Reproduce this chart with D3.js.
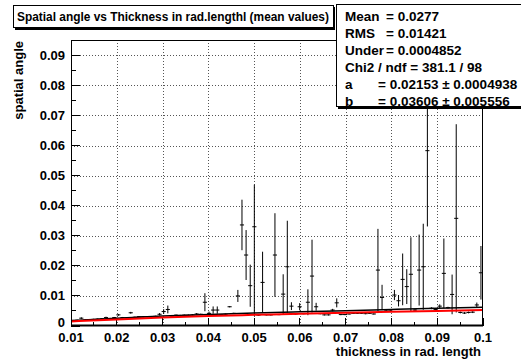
<!DOCTYPE html>
<html><head><meta charset="utf-8">
<script src="https://cdn.jsdelivr.net/npm/d3@7"></script>
<style>
html,body{margin:0;padding:0;background:#fff;}
svg{display:block;font-family:"Liberation Sans",Arial,Helvetica,sans-serif;font-weight:bold;}
</style></head>
<body><svg id="c" width="521" height="360"></svg>
<script>
// ---- data ----
const binLow = 0.01, binWidth = 0.0009;
const meanValues = [
 0.0017,0.0019,0.0026,0.0020,0.0021,0.0022,0.0023,0.0024,0.0028,0.0025,
 0.0028,0.0037,0.0028,0.0027,0.0044,0.0029,0.0031,0.0031,0.0031,0.0030,
 0.0032,0.0039,0.0048,0.0055,0.0033,0.0036,0.0035,0.0036,0.0036,0.0037,
 0.0040,0.0039,0.0079,0.0042,0.0053,0.0053,0.0038,0.0039,0.0064,0.0042,
 0.0100,0.0336,0.0236,0.0134,0.0330,0.0036,0.0145,0.0037,0.0037,0.0236,
 0.0038,0.0106,0.0197,0.0066,0.0040,0.0064,0.0041,0.0079,0.0166,0.0064,
 0.0041,0.0037,0.0037,0.0053,0.0077,0.0038,0.0038,0.0040,0.0042,0.0042,
 0.0042,0.0041,0.0042,0.0040,0.0186,0.0095,0.0053,0.0053,0.0103,0.0084,
 0.0155,0.0131,0.0172,0.0053,0.0186,0.0197,0.0583,0.0059,0.0055,0.0066,
 0.0175,0.0061,0.0105,0.0358,0.0045,0.0043,0.0045,0.0046,0.0070,0.0177
];
const errUpValues = [
 0.0002,0.0002,0.0003,0.0002,0.0002,0.0002,0.0002,0.0002,0.0003,0.0002,
 0.0002,0.0003,0.0002,0.0002,0.0003,0.0002,0.0002,0.0002,0.0002,0.0002,
 0.0002,0.0004,0.0008,0.0013,0.0002,0.0002,0.0002,0.0002,0.0002,0.0002,
 0.0003,0.0002,0.0030,0.0006,0.0012,0.0012,0.0002,0.0002,0.0002,0.0002,
 0.0020,0.0084,0.0083,0.0070,0.0140,0.0002,0.0102,0.0002,0.0002,0.0139,
 0.0002,0.0066,0.0153,0.0013,0.0002,0.0012,0.0002,0.0043,0.0121,0.0013,
 0.0002,0.0002,0.0002,0.0004,0.0015,0.0002,0.0002,0.0002,0.0002,0.0002,
 0.0002,0.0002,0.0002,0.0002,0.0137,0.0042,0.0003,0.0003,0.0017,0.0019,
 0.0086,0.0058,0.0123,0.0003,0.0118,0.0143,0.0252,0.0003,0.0003,0.0006,
 0.0116,0.0003,0.0066,0.0313,0.0003,0.0003,0.0003,0.0003,0.0008,0.0089
];
// lower error lengths (equal to the upper ones except where the picture shows a longer lower bar)
const errDownValues = errUpValues.map((e,i)=> i===44 ? 0.0297 : e);
const curveX = [0.01,0.02,0.03,0.04,0.05,0.06,0.07,0.08,0.09,0.1];
const fitBlack = [0.0018,0.0026,0.0033,0.0038,0.0043,0.0047,0.0051,0.0055,0.0059,0.0062];
const fitRed   = [0.0015,0.0022,0.0028,0.0033,0.0037,0.0041,0.0044,0.0047,0.0050,0.0053];
const xTicks = [0.01,0.02,0.03,0.04,0.05,0.06,0.07,0.08,0.09,0.1];
const xTickLabels = ["0.01","0.02","0.03","0.04","0.05","0.06","0.07","0.08","0.09","0.1"];
const yTicks = [0,0.01,0.02,0.03,0.04,0.05,0.06,0.07,0.08,0.09];
const yTickLabels = ["0","0.01","0.02","0.03","0.04","0.05","0.06","0.07","0.08","0.09"];
const titleText = "Spatial angle vs Thickness in rad.lengthl (mean values)";
const xTitle = "thickness in rad. length";
const yTitle = "spatial angle";
const statLabels = ["Mean","RMS","Under","Chi2 / ndf","a","b"];
const statValues = ["= 0.0277","= 0.01421","= 0.0004852","= 381.1 / 98","= 0.02153 \u00b1 0.0004938","= 0.03606 \u00b1 0.005556"];

// ---- layout ----
const L=71, R=483, T=40, B=326;
const x = d3.scaleLinear().domain([0.01,0.1]).range([L,R]);
const y = d3.scaleLinear().domain([0,0.0951]).range([B,T]);
const svg = d3.select("#c");

// grid
const g = svg.append("g");
g.selectAll(".gx").data(xTicks.slice(1,-1)).join("line")
 .attr("x1",d=>Math.round(x(d))+0.5).attr("x2",d=>Math.round(x(d))+0.5).attr("y1",B).attr("y2",T)
 .attr("stroke","#555").attr("stroke-width",1).attr("stroke-dasharray","1,2");
g.selectAll(".gy").data(yTicks.slice(1)).join("line")
 .attr("x1",L).attr("x2",R).attr("y1",d=>Math.round(y(d))+0.5).attr("y2",d=>Math.round(y(d))+0.5)
 .attr("stroke","#555").attr("stroke-width",1).attr("stroke-dasharray","1,2");

// ticks
const minorX = d3.range(xTicks.length-1).map(i=>(xTicks[i]+xTicks[i+1])/2);
g.selectAll(".tx").data(xTicks).join("line")
 .attr("x1",d=>x(d)).attr("x2",d=>x(d)).attr("y1",B).attr("y2",B-8).attr("stroke","#000").attr("shape-rendering","crispEdges");
g.selectAll(".tmx").data(minorX).join("line")
 .attr("x1",d=>x(d)).attr("x2",d=>x(d)).attr("y1",B).attr("y2",B-4).attr("stroke","#000").attr("shape-rendering","crispEdges");
const minorY = yTicks.map(d=>d+0.005).filter(d=>y(d)>T);
g.selectAll(".ty").data(yTicks).join("line")
 .attr("x1",L).attr("x2",L+9).attr("y1",d=>y(d)).attr("y2",d=>y(d)).attr("stroke","#000").attr("shape-rendering","crispEdges");
g.selectAll(".tmy").data(minorY).join("line")
 .attr("x1",L).attr("x2",L+5).attr("y1",d=>y(d)).attr("y2",d=>y(d)).attr("stroke","#000").attr("shape-rendering","crispEdges");

// clip
svg.append("clipPath").attr("id","clip").append("rect").attr("x",L).attr("y",T).attr("width",R-L).attr("height",B-T);
const pg = svg.append("g").attr("clip-path","url(#clip)");

// data points
const pts = meanValues.map((v,i)=>({lo:binLow+i*binWidth, hi:binLow+(i+1)*binWidth, c:binLow+(i+0.5)*binWidth, v, eu:errUpValues[i], ed:errDownValues[i]}));
pg.selectAll(".eb").data(pts).join("line")
 .attr("x1",d=>x(d.c)).attr("x2",d=>x(d.c)).attr("y1",d=>y(d.v-d.ed)).attr("y2",d=>y(d.v+d.eu))
 .attr("stroke","#000").attr("stroke-width",1);
pg.selectAll(".hb").data(pts).join("line")
 .attr("x1",d=>x(d.lo)).attr("x2",d=>x(d.hi)).attr("y1",d=>y(d.v)).attr("y2",d=>y(d.v))
 .attr("stroke","#000").attr("stroke-width",1);

// curves
const lineGen = d3.line().x(d=>x(d[0])).y(d=>y(d[1])).curve(d3.curveMonotoneX);
pg.append("path").attr("d",lineGen(curveX.map((c,i)=>[c,fitBlack[i]]))).attr("fill","none").attr("stroke","#000").attr("stroke-width",1.5);
pg.append("path").attr("d",lineGen(curveX.map((c,i)=>[c,fitRed[i]]))).attr("fill","none").attr("stroke","#ff0000").attr("stroke-width",2);

// frame
svg.append("rect").attr("x",L+0.5).attr("y",T+0.5).attr("width",R-L-1).attr("height",B-T-1)
 .attr("fill","none").attr("stroke","#000").attr("stroke-width",1);
svg.append("line").attr("x1",L).attr("x2",R).attr("y1",B-0.5).attr("y2",B-0.5).attr("stroke","#000").attr("stroke-width",2);

// tick labels
svg.selectAll(".xl").data(xTicks).join("text")
 .attr("x",d=>x(d)).attr("y",341.5).attr("text-anchor","middle").attr("font-size",13)
 .text((d,i)=>xTickLabels[i]);
svg.selectAll(".yl").data(yTicks).join("text")
 .attr("x",65).attr("y",d=>y(d)+(d===0?0.8:4.5)).attr("text-anchor","end").attr("font-size",13)
 .text((d,i)=>yTickLabels[i]);

// axis titles
svg.append("text").attr("x",481).attr("y",356).attr("text-anchor","end").attr("font-size",13).text(xTitle);
svg.append("text").attr("transform","translate(22.5,41) rotate(-90)").attr("text-anchor","end").attr("font-size",13).text(yTitle);

// title box
svg.append("rect").attr("x",15).attr("y",7).attr("width",320).attr("height",23).attr("fill","#000");
svg.append("rect").attr("x",13.5).attr("y",5.5).attr("width",320).attr("height",22).attr("fill","#fff").attr("stroke","#000").attr("stroke-width",1);
svg.append("text").attr("x",17).attr("y",21).attr("font-size",11.9).text(titleText);

// stats box
svg.append("rect").attr("x",338).attr("y",6).attr("width",190).attr("height",103).attr("fill","#000");
svg.append("rect").attr("x",336.5).attr("y",4.5).attr("width",190).attr("height",102).attr("fill","#fff").attr("stroke","#000").attr("stroke-width",1);
const base = [20.5,37.7,54.9,72,89.2,105.5];
const valX = [386,386,386,null,378,378];
statLabels.forEach((lab,i)=>{
  if(valX[i]===null){
    svg.append("text").attr("x",345).attr("y",base[i]).attr("font-size",13.5).text(lab+" "+statValues[i]);
  } else {
    svg.append("text").attr("x",345).attr("y",base[i]).attr("font-size",13.5).text(lab);
    svg.append("text").attr("x",valX[i]).attr("y",base[i]).attr("font-size",13.5).text(statValues[i]);
  }
});
</script></body></html>
